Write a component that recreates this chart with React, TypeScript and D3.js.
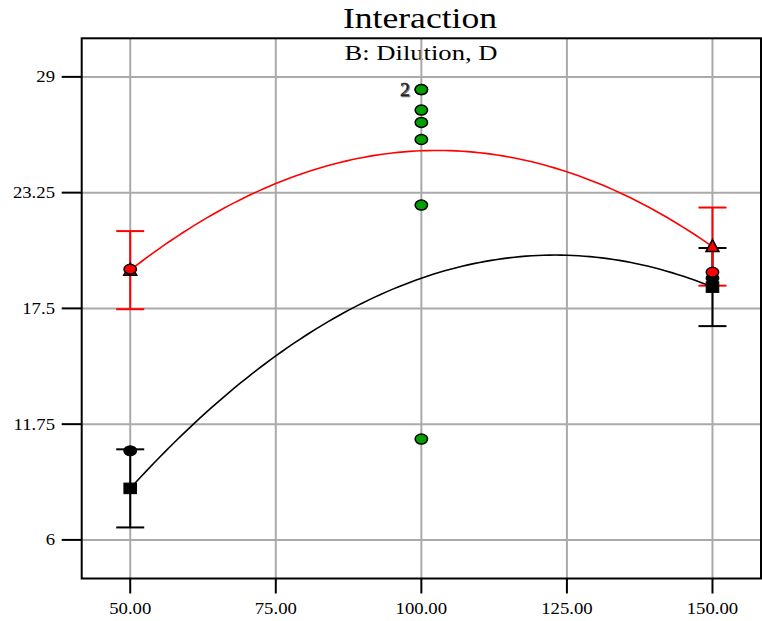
import React from "react";
import * as d3 from "d3";

// Factor B: Dilution levels and axis ticks
const dilutionLevels = [50, 100, 150];
const xTicks = [50, 75, 100, 125, 150];
const yTicks = [6, 11.75, 17.5, 23.25, 29];

// Model predictions for the two levels of factor D
const redPredicted = [19.4, 25.33, 20.57];
const blackPredicted = [8.56, 19.0, 18.56];

// LSD bar half-width and the levels that carry bars
const lsdHalfWidth = 1.94;
const barLevels = [50, 150];

// Observed design points
const redObservedX = [50, 150];
const redObservedY = [19.45, 19.3];
const blackObservedX = [50, 150];
const blackObservedY = [10.43, 19.0];
const centerPointY = [28.37, 28.37, 27.35, 26.74, 25.89, 22.63, 11.01];

const W = 762;
const H = 621;
const left = 81.7;
const right = 761;
const top = 38.3;
const bottom = 578.5;
const stretch = 1.17;

const x = d3
  .scaleLinear()
  .domain([50 - 100 / 12, 150 + 100 / 12])
  .range([left, right]);
const y = d3
  .scaleLinear()
  .domain([6 - 23 / 12, 29 + 23 / 12])
  .range([bottom, top]);

// Quadratic through the three predicted values
function quad(vals: number[]) {
  const [x0, x1, x2] = dilutionLevels;
  return (t: number) =>
    (vals[0] * (t - x1) * (t - x2)) / ((x0 - x1) * (x0 - x2)) +
    (vals[1] * (t - x0) * (t - x2)) / ((x1 - x0) * (x1 - x2)) +
    (vals[2] * (t - x0) * (t - x1)) / ((x2 - x0) * (x2 - x1));
}

const samples = d3.range(50, 150.01, 1);
const line = d3
  .line<number[]>()
  .x((d) => x(d[0]))
  .y((d) => y(d[1]));

function curvePath(vals: number[]) {
  const f = quad(vals);
  return line(samples.map((t) => [t, f(t)])) || "";
}

function predAt(vals: number[], lvl: number) {
  return vals[dilutionLevels.indexOf(lvl)];
}

const serif = "'Liberation Serif', 'Times New Roman', serif";

export default function App() {
  const grid = "#aaaaaa";
  const cap = 14;
  return (
    <svg
      width={W}
      height={H}
      style={{ position: "absolute", left: 0, top: 0, background: "#fff" }}
      fontFamily={serif}
    >
      <rect x={0} y={0} width={W} height={H} fill="#fff" />
      {/* titles */}
      <text x={420} y={28} fontSize={30} textAnchor="middle" textLength={154} lengthAdjust="spacingAndGlyphs">
        Interaction
      </text>
      <text x={421} y={60} fontSize={20} textAnchor="middle" textLength={153} lengthAdjust="spacingAndGlyphs">
        B: Dilution, D
      </text>
      {/* grid */}
      {xTicks.map((t) => (
        <line key={"gx" + t} x1={x(t)} x2={x(t)} y1={top} y2={bottom} stroke={grid} strokeWidth={2} />
      ))}
      {yTicks.map((t) => (
        <line key={"gy" + t} x1={left} x2={right} y1={y(t)} y2={y(t)} stroke={grid} strokeWidth={2} />
      ))}
      {/* prediction curves */}
      <path d={curvePath(redPredicted)} fill="none" stroke="#ff0000" strokeWidth={1.6} />
      <path d={curvePath(blackPredicted)} fill="none" stroke="#000" strokeWidth={1.6} />
      {/* LSD bars */}
      {barLevels.map((lvl) => {
        const px = x(lvl);
        const r = predAt(redPredicted, lvl);
        const b = predAt(blackPredicted, lvl);
        return (
          <g key={"bar" + lvl} strokeWidth={2}>
            <line x1={px} x2={px} y1={y(b - lsdHalfWidth)} y2={y(b + lsdHalfWidth)} stroke="#000" />
            <line x1={px - cap} x2={px + cap} y1={y(b - lsdHalfWidth)} y2={y(b - lsdHalfWidth)} stroke="#000" />
            <line x1={px - cap} x2={px + cap} y1={y(b + lsdHalfWidth)} y2={y(b + lsdHalfWidth)} stroke="#000" />
            <line x1={px} x2={px} y1={y(r - lsdHalfWidth)} y2={y(r + lsdHalfWidth)} stroke="#ff0000" />
            <line x1={px - cap} x2={px + cap} y1={y(r - lsdHalfWidth)} y2={y(r - lsdHalfWidth)} stroke="#ff0000" />
            <line x1={px - cap} x2={px + cap} y1={y(r + lsdHalfWidth)} y2={y(r + lsdHalfWidth)} stroke="#ff0000" />
          </g>
        );
      })}
      {/* predicted markers */}
      {barLevels.map((lvl) => {
        const px = x(lvl);
        const py = y(predAt(redPredicted, lvl));
        return (
          <path
            key={"tri" + lvl}
            d={`M${px},${py - 7} L${px + 6.5},${py + 5} L${px - 6.5},${py + 5} Z`}
            fill="#ff0000"
            stroke="#000"
            strokeWidth={1.5}
          />
        );
      })}
      {barLevels.map((lvl) => {
        const px = x(lvl);
        const py = y(predAt(blackPredicted, lvl));
        return <rect key={"sq" + lvl} x={px - 6.3} y={py - 5.3} width={12.6} height={10.6} fill="#000" stroke="#000" strokeWidth={1} />;
      })}
      {/* observed points */}
      {blackObservedX.map((v, i) => (
        <ellipse key={"bo" + i} cx={x(v)} cy={y(blackObservedY[i])} rx={6.2} ry={4.8} fill="#000" stroke="#000" strokeWidth={1.5} />
      ))}
      {redObservedX.map((v, i) => (
        <ellipse key={"ro" + i} cx={x(v)} cy={y(redObservedY[i])} rx={6.2} ry={4.8} fill="#ff0000" stroke="#000" strokeWidth={1.5} />
      ))}
      {centerPointY.map((v, i) => (
        <ellipse key={"cp" + i} cx={x(100)} cy={y(v)} rx={6.2} ry={5} fill="#00a000" stroke="#000" strokeWidth={1.5} />
      ))}
      {/* replicate count at the top centre point */}
      <g fontSize={19} textAnchor="end" fontFamily={serif}>
        <text transform={`translate(${x(100) - 10.5},${y(centerPointY[0]) + 7}) scale(1.05,1)`} fill="#888" stroke="#888" strokeWidth={0.6}>2</text>
        <text transform={`translate(${x(100) - 11.5},${y(centerPointY[0]) + 6.5}) scale(1.05,1)`} fill="#222" stroke="#222" strokeWidth={0.4}>2</text>
      </g>
      {/* frame */}
      <rect x={left} y={top} width={right - left} height={bottom - top} fill="none" stroke="#000" strokeWidth={2} />
      {/* axis ticks and labels */}
      {yTicks.map((t) => (
        <g key={"ty" + t}>
          <line x1={left - 20} x2={left} y1={y(t)} y2={y(t)} stroke="#000" strokeWidth={2} />
          <text
            transform={`translate(55,${y(t) + 5.5}) scale(${stretch},1)`}
            fontSize={16}
            textAnchor="end"
          >
            {t}
          </text>
        </g>
      ))}
      {xTicks.map((t) => (
        <g key={"tx" + t}>
          <line x1={x(t)} x2={x(t)} y1={bottom} y2={bottom + 15} stroke="#000" strokeWidth={2} />
          <text
            transform={`translate(${x(t)},614) scale(${stretch},1)`}
            fontSize={16}
            textAnchor="middle"
          >
            {d3.format(".2f")(t)}
          </text>
        </g>
      ))}
    </svg>
  );
}
